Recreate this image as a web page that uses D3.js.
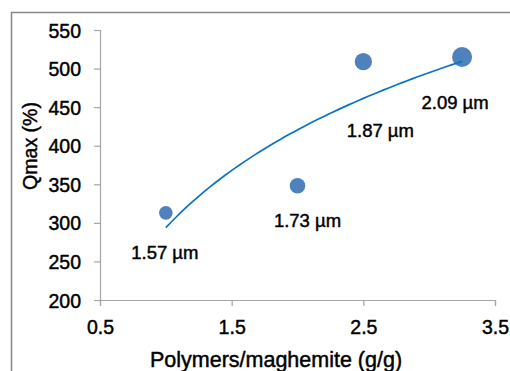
<!DOCTYPE html>
<html>
<head>
<meta charset="utf-8">
<script src="https://cdn.jsdelivr.net/npm/d3@7"></script>
<style>
body { margin:0; background:#fff; }
svg { font-family: "Liberation Sans", Arial, sans-serif; }
svg text { stroke: #000; stroke-width: 0.45px; }
</style>
</head>
<body>
<svg width="510" height="371"></svg>
<script>
// ratio polymers/maghemite vs Qmax
var ratios = [1.0, 2.0, 2.5, 3.25];
var qmax = [313, 348, 509, 515];
var sizes = [1.57, 1.73, 1.87, 2.09]; // particle size, um
var labels = ["1.57 µm", "1.73 µm", "1.87 µm", "2.09 µm"];
var xTicks = [0.5, 1.5, 2.5, 3.5];
var yTicks = [200, 250, 300, 350, 400, 450, 500, 550];
// label offsets (px) from each bubble
var labelDx = [-1, 10, 17, -7];
var labelDy = [46, 41, 75, 52];

var svg = d3.select("svg");

// outer frame (only top and left visible)
svg.append("path")
  .attr("d", "M11.5,371 V12.5 H510")
  .attr("fill", "none")
  .attr("stroke", "#868686")
  .attr("stroke-width", 1.5);

var x = d3.scaleLinear().domain([0.5, 3.5]).range([100, 495]);
var y = d3.scaleLinear().domain([200, 550]).range([300, 30]);
var r = d3.scaleLinear().domain([1.57, 2.09]).range([6.8, 10]);

var yAxis = svg.append("g")
  .attr("transform", "translate(100,0)")
  .call(d3.axisLeft(y).tickValues(yTicks).tickSize(6).tickPadding(13).tickFormat(d3.format("d")));
var xAxis = svg.append("g")
  .attr("transform", "translate(0,300)")
  .call(d3.axisBottom(x).tickValues(xTicks).tickSize(6).tickPadding(14).tickFormat(d3.format(".1f")));

[xAxis, yAxis].forEach(function(a) {
  a.select(".domain").attr("stroke", "#a6a6a6").attr("stroke-width", 1.2);
  a.selectAll(".tick line").attr("stroke", "#a6a6a6").attr("stroke-width", 1.2);
  a.selectAll(".tick text").attr("fill", "#000").attr("font-size", "19.5px")
    .attr("font-family", "Liberation Sans, Arial, sans-serif");
});
yAxis.selectAll(".tick text").attr("dy", "0.36em");

var data = ratios.map(function(d, i) {
  return {x: d, y: qmax[i], s: sizes[i], label: labels[i], dx: labelDx[i], dy: labelDy[i]};
});

// bubbles
svg.selectAll(".bubble")
  .data(data)
  .enter()
  .append("circle")
  .attr("class", "bubble")
  .attr("cx", d => x(d.x))
  .attr("cy", d => y(d.y))
  .attr("r", d => r(d.s))
  .attr("fill", "#4f81bd");

// logarithmic trendline (least squares on ln x)
var lx = ratios.map(Math.log);
var mx = d3.mean(lx), my = d3.mean(qmax);
var sxy = d3.sum(lx, (v, i) => (v - mx) * (qmax[i] - my));
var sxx = d3.sum(lx, v => (v - mx) * (v - mx));
var slope = sxy / sxx, icpt = my - slope * mx;
var trend = d3.range(0, 61).map(function(i) {
  var xv = ratios[0] + (ratios[ratios.length - 1] - ratios[0]) * i / 60;
  return [xv, slope * Math.log(xv) + icpt];
});
svg.append("path")
  .datum(trend)
  .attr("fill", "none")
  .attr("stroke", "#0a72c4")
  .attr("stroke-width", 1.7)
  .attr("d", d3.line().x(d => x(d[0])).y(d => y(d[1])));

// point labels
svg.selectAll(".lbl")
  .data(data)
  .enter()
  .append("text")
  .attr("class", "lbl")
  .attr("x", d => x(d.x) + d.dx)
  .attr("y", d => y(d.y) + d.dy)
  .attr("text-anchor", "middle")
  .attr("font-size", "18.5px")
  .attr("fill", "#000")
  .text(d => d.label);

// axis titles
svg.append("text")
  .attr("x", 276)
  .attr("y", 367)
  .attr("text-anchor", "middle")
  .attr("font-size", "21.5px")
  .attr("fill", "#000")
  .text("Polymers/maghemite (g/g)");

svg.append("text")
  .attr("transform", "translate(37,146) rotate(-90)")
  .attr("text-anchor", "middle")
  .attr("font-size", "19.5px")
  .attr("fill", "#000")
  .text("Qmax (%)");
</script>
</body>
</html>
